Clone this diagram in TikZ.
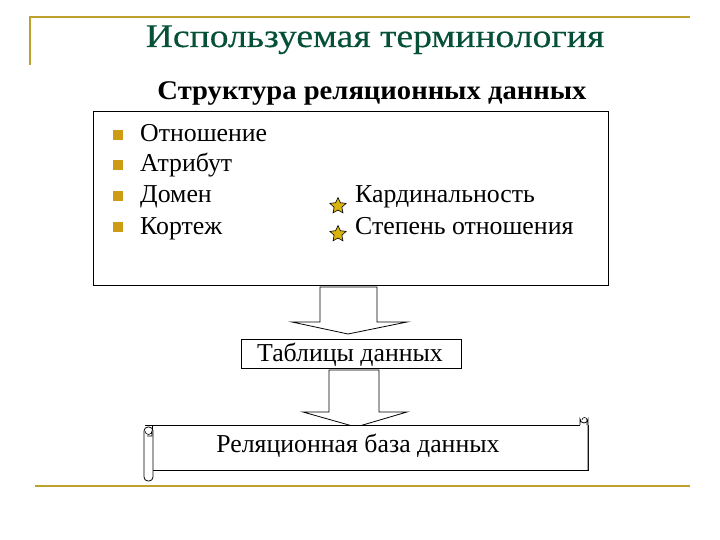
\documentclass[tikz,border=0pt]{standalone}
\usepackage{fontspec}
\usepackage{graphicx}
\setmainfont{Liberation Serif}
\newfontfamily\titlefont[FakeBold=0.35]{Liberation Serif}
\usetikzlibrary{shapes.geometric}
\definecolor{goldline}{RGB}{190,160,45}
\definecolor{goldbul}{RGB}{205,155,20}
\definecolor{titlegreen}{RGB}{5,80,55}
\tikzset{
  bodytext/.style={anchor=base west, inner sep=0pt, font=\fontsize{25.8}{28}\selectfont},
  centertext/.style={anchor=base, inner sep=0pt, font=\fontsize{25.8}{28}\selectfont},
  bul/.style={fill=goldbul, minimum size=9.5pt, inner sep=0pt},
  staricon/.style={star, star points=5, star point ratio=2.1, draw=black, line width=0.6pt, fill=goldbul!75!yellow, minimum size=17pt, inner sep=0pt},
  blockarrow/.style={draw=black, line width=0.8pt, fill=white, line join=miter},
  boxframe/.style={draw=black, line width=0.8pt, fill=white}
}
\begin{document}
\begin{tikzpicture}[x=1pt,y=-1pt]
\useasboundingbox (0,0) rectangle (720,540);
% frame lines
\draw[goldline, line width=2pt] (30,65) -- (30,17) -- (690,17);
\draw[goldline, line width=2pt] (35,486) -- (690,486);
% titles
\node[anchor=base, inner sep=0pt, text=titlegreen, font=\titlefont\fontsize{33}{35}\selectfont] (title) at (375,47) {\scalebox{1.14}[1]{Используемая терминология}};
\node[anchor=base, inner sep=0pt, font=\bfseries\fontsize{27}{29}\selectfont] (sub) at (372,100) {\scalebox{1.06}[1]{Структура реляционных данных}};
% main box
\node[boxframe, minimum width=515pt, minimum height=174pt, anchor=north west] (main) at (93,111) {};
\foreach \y/\t [count=\i] in {142/Отношение,172/Атрибут,203/Домен,234/Кортеж}{
  \node[bul] (b\i) at (118,\y-7) {};
  \node[bodytext] (t\i) at (140,\y) {\t};
}
\node[staricon] (s1) at (338,206) {};
\node[staricon] (s2) at (338,234) {};
\node[bodytext] (k1) at (355,203) {Кардинальность};
\node[bodytext] (k2) at (355,234) {Степень отношения};
% tables box
\node[boxframe, minimum width=220pt, minimum height=29pt, anchor=north west, inner sep=0pt] (tab) at (241,339) {};
\node[centertext] (tabt) at (350,361) {Таблицы данных};
% arrow 1
\draw[blockarrow] (320,287) -- (377,287) -- (377,322) -- (407,322) -- (348,334) -- (292,322) -- (320,322) -- cycle;
% arrow 2
\draw[blockarrow] (329,370) -- (379,370) -- (379,412) -- (407,412) -- (356,427) -- (303,412) -- (329,412) -- cycle;
% scroll
\node[boxframe, minimum width=436pt, minimum height=45pt, anchor=north west] (db) at (152,425) {};
\draw[line width=0.8pt] (145,425) -- (588,425);
\draw[line width=0.8pt, fill=white, rounded corners=4pt] (144,427) rectangle (153,481);
\draw[line width=0.6pt] (145,431) arc (180:0:3.5) -- (152,436) -- (147,436);
\draw[line width=0.8pt, fill=white] (588,470) -- (588,419) arc (0:180:4) -- (580,425);
\draw[line width=0.6pt] (582,420) arc (180:360:2.5) -- (587,425);
\node[centertext] (dbt) at (358,452) {Реляционная база данных};
\end{tikzpicture}
\end{document}
